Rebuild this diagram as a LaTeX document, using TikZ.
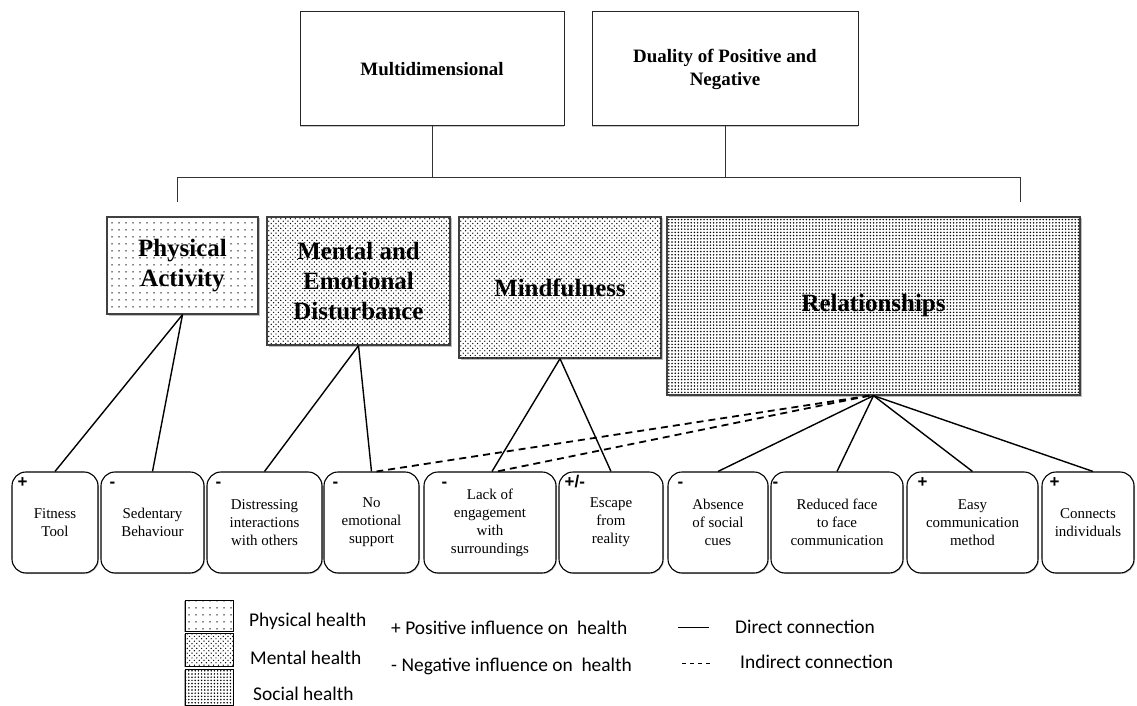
\documentclass[tikz,border=0pt]{standalone}
\usepackage{fontspec}
\setmainfont{Liberation Serif}
\newfontfamily\keyfont{Carlito}
\newfontfamily\signfont{Liberation Sans}
\usetikzlibrary{patterns.meta,shadows}

\tikzset{
  topbox/.style={draw=black!85, line width=1bp, fill=white, minimum height=114bp,
    align=center, font=\bfseries\fontsize{19}{23}\selectfont,
    drop shadow={shadow xshift=0bp, shadow yshift=-1.5bp, opacity=.45}},
  area/.style={draw=black!75, line width=1.3bp, align=center,
    font=\bfseries\fontsize{25}{30.5}\selectfont,
    drop shadow={shadow xshift=1.5bp, shadow yshift=-1.5bp, opacity=.5},
    preaction={fill=white}},
  physfill/.style={pattern={Dots[distance=7bp, radius=.75bp]}},
  mentfill/.style={pattern={Dots[distance=4.8bp, radius=.7bp]},
    postaction={pattern={Dots[distance=4.8bp, radius=.7bp, xshift=2.4bp, yshift=2.4bp]}}},
  socfill/.style={pattern={Dots[distance=3.2bp, radius=.85bp]}},
  item/.style={draw, rounded corners=14bp, line width=1.1bp, fill=white,
    minimum height=101bp, align=center, inner sep=1bp,
    font=\fontsize{15}{18}\selectfont,
    drop shadow={shadow xshift=1bp, shadow yshift=-1bp, opacity=.35}},
  sign/.style={anchor=base west, inner sep=0pt, font=\signfont\bfseries\fontsize{17}{17}\selectfont},
  link/.style={line width=1.4bp},
  indirect/.style={line width=1.8bp, dash pattern=on 7bp off 5bp},
  bar/.style={line width=1bp, black!80},
  keybox/.style={drop shadow={shadow xshift=-1bp, shadow yshift=-1bp, opacity=.7},
    preaction={fill=white}, draw, line width=.9bp, minimum width=48bp},
  key/.style={anchor=west, inner sep=0pt, font=\keyfont\fontsize{19.5}{23}\selectfont},
}

\begin{document}
\begin{tikzpicture}[x=1bp, y=-1bp]
  \useasboundingbox (0,0) rectangle (1137,706);

  % two headings
  \node[topbox, minimum width=264bp] (multi) at (432,69) {Multidimensional};
  \node[topbox, minimum width=266bp] (dual) at (725,69) {Duality of Positive and\\Negative};

  \coordinate (barL) at (177,178);
  \coordinate (barR) at (1020,178);
  \coordinate (dropL) at (177,202);
  \coordinate (dropR) at (1020,202);
  \draw[bar] (dropL) -- (barL) -- (barR) -- (dropR);
  \draw[bar] (multi.south) -- (multi.south |- barL);
  \draw[bar] (dual.south) -- (dual.south |- barL);

  % themes
  \node[area, physfill, minimum width=151bp, minimum height=97bp] (phys) at (182.5,265.5) {Physical\\Activity};
  \node[area, mentfill, minimum width=183bp, minimum height=128bp] (mental) at (358.5,281) {Mental and\\Emotional\\Disturbance};
  \node[area, mentfill, minimum width=202bp, minimum height=141bp] (mind) at (560,287.5) {Mindfulness};
  \node[area, socfill, minimum width=413bp, minimum height=178bp] (rel) at (873.5,306) {Relationships};

  % effects
  \node[item, minimum width=86bp] (fit) at (55,522.5) {Fitness\\Tool};
  \node[item, minimum width=103bp] (sed) at (152.5,522.5) {Sedentary\\Behaviour};
  \node[item, minimum width=115bp] (dis) at (264.5,522.5) {Distressing\\interactions\\with others};
  \node[item, minimum width=95bp] (noe) at (371.5,522.5) {No\\emotional\\support};
  \node[item, minimum width=132bp] (lack) at (490,522.5) {Lack of\\engagement\\with\\surroundings};
  \node[item, minimum width=104bp] (esc) at (611,522.5) {Escape\\from\\reality};
  \node[item, minimum width=100bp] (abs) at (718,522.5) {Absence\\of social\\cues};
  \node[item, minimum width=132bp] (red) at (837,522.5) {Reduced face\\to face\\communication};
  \node[item, minimum width=131bp] (easy) at (972.5,522.5) {Easy\\communication\\method};
  \node[item, minimum width=92bp] (con) at (1088,522.5) {Connects\\individuals};

  \node[sign] (fitS) at ([xshift=6bp, yshift=-16bp]fit.north west) {+};
  \node[sign] (sedS) at ([xshift=9bp, yshift=-16bp]sed.north west) {-};
  \node[sign] (disS) at ([xshift=9bp, yshift=-16bp]dis.north west) {-};
  \node[sign] (noeS) at ([xshift=9bp, yshift=-16bp]noe.north west) {-};
  \node[sign] (lackS) at ([xshift=18bp, yshift=-16bp]lack.north west) {-};
  \node[sign] (escS) at ([xshift=6bp, yshift=-16bp]esc.north west) {+/-};
  \node[sign] (absS) at ([xshift=10bp, yshift=-16bp]abs.north west) {-};
  \node[sign] (redS) at ([xshift=2bp, yshift=-16bp]red.north west) {-};
  \node[sign] (easyS) at ([xshift=11bp, yshift=-16bp]easy.north west) {+};
  \node[sign] (conS) at ([xshift=8bp, yshift=-16bp]con.north west) {+};

  % direct links
  \draw[link] (phys.south) -- (fit.north);
  \draw[link] (phys.south) -- (sed.north);
  \draw[link] (mental.south) -- (dis.north);
  \draw[link] (mental.south) -- (noe.north);
  \draw[link] (mind.south) -- ([xshift=2bp]lack.north);
  \draw[link] (mind.south) -- (esc.north);
  \draw[link] (rel.south) -- (abs.north);
  \draw[link] (rel.south) -- (red.north);
  \draw[link] (rel.south) -- (easy.north);
  \draw[link] (rel.south) -- ([xshift=5bp]con.north);
  % indirect links
  \draw[indirect] ([xshift=-4bp]rel.south) -- ([xshift=5bp]noe.north);
  \draw[indirect] ([xshift=-4bp]rel.south) -- ([xshift=7bp]lack.north);

  % legend
  \node[keybox, physfill, minimum height=31bp] (kPhys) at (209,615.5) {};
  \node[keybox, mentfill, minimum height=33bp] (kMent) at (209,649.5) {};
  \node[keybox, socfill, minimum height=36bp] (kSoc) at (209,687) {};
  \node[key] (tPhys) at (249,621) {Physical health};
  \node[key] (tMent) at (250,658) {Mental health};
  \node[key] (tSoc) at (253,694) {Social health};
  \node[key] (tPos) at (391,628) {+ Positive influence on\ \ health};
  \node[key] (tNeg) at (391,666) {- Negative influence on\ \ health};
  \coordinate (dirA) at (678,627);
  \coordinate (dirB) at (709,627);
  \coordinate (indA) at (682,663);
  \coordinate (indB) at (713,663);
  \draw[line width=.9bp] (dirA) -- (dirB);
  \draw[line width=.9bp, dash pattern=on 4bp off 4bp] (indA) -- (indB);
  \node[key] (tDir) at (735,627) {Direct connection};
  \node[key] (tInd) at (740,662) {Indirect connection};
\end{tikzpicture}
\end{document}
